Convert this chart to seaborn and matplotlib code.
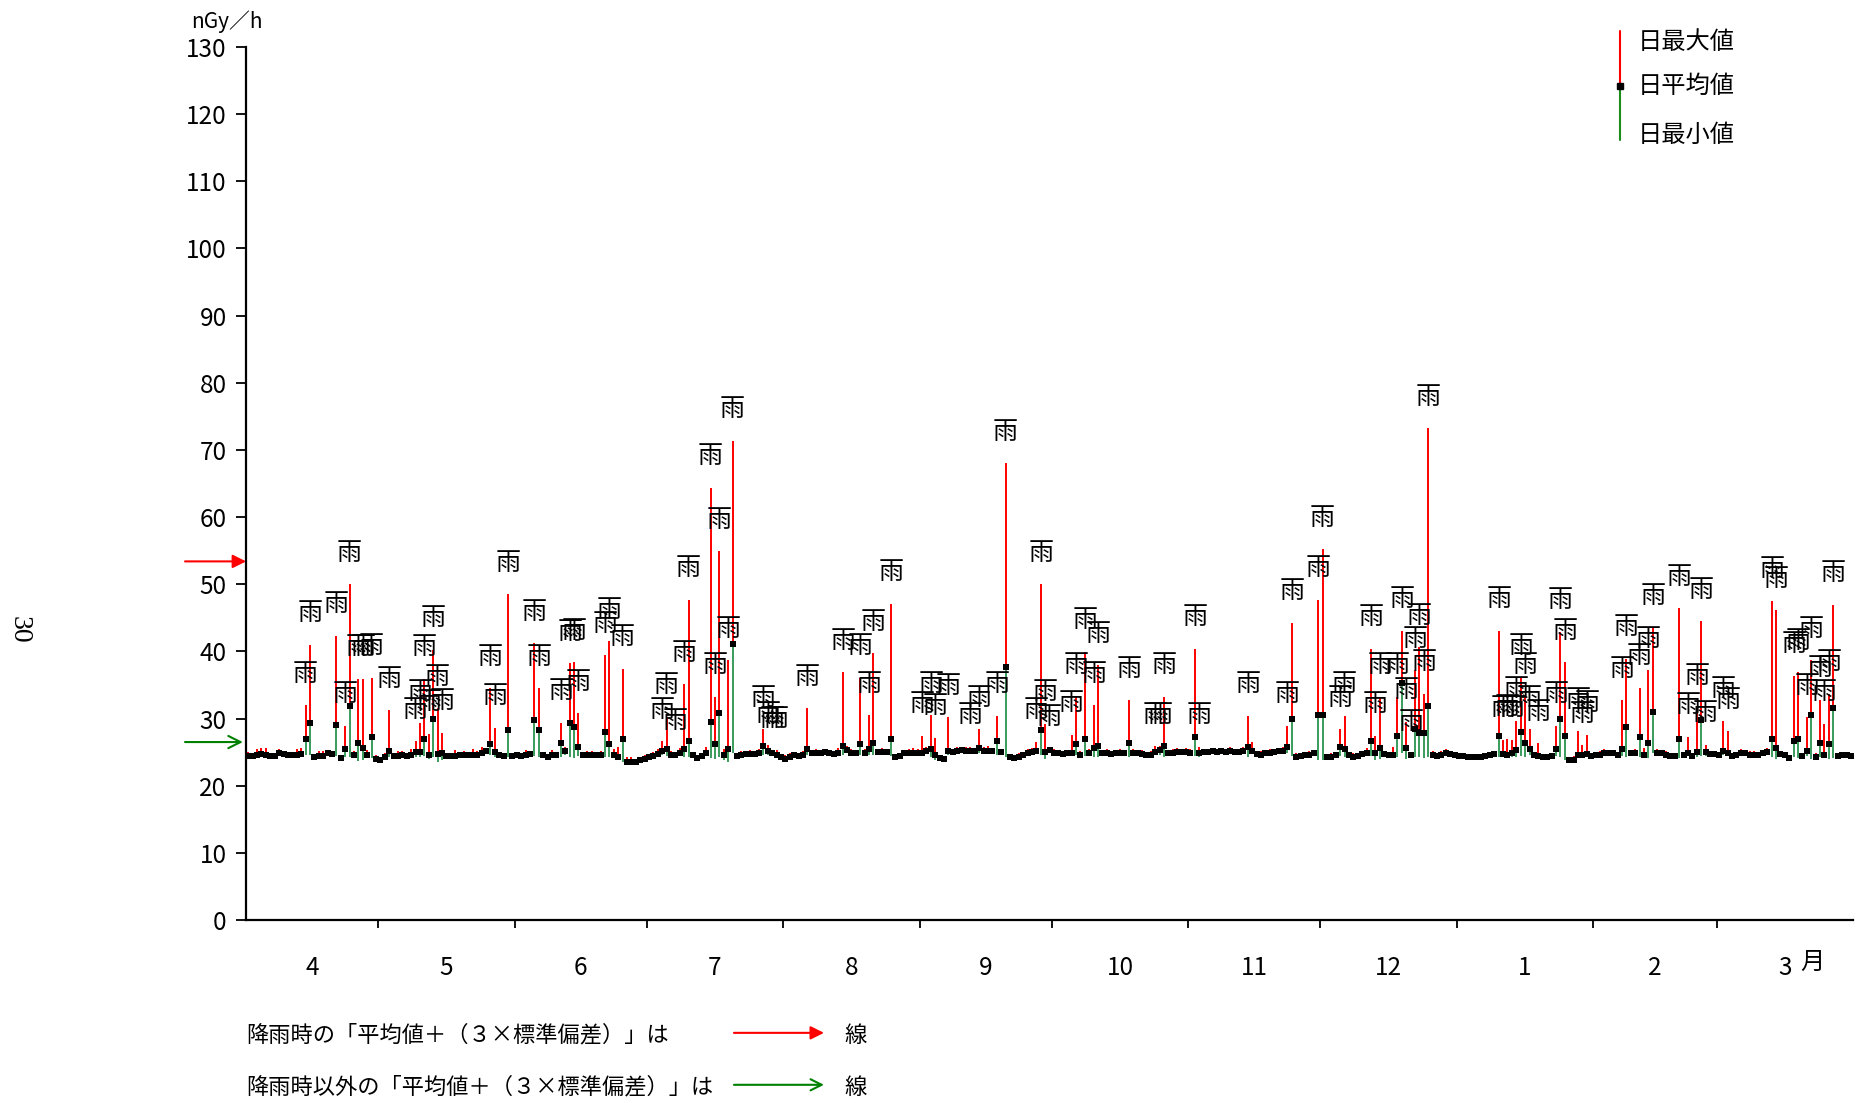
#!/usr/bin/env python3

import numpy as np
import pandas as pd
import seaborn as sns
from matplotlib import pyplot as plt
from matplotlib.lines import Line2D

months = ['4', '5', '6', '7', '8', '9', '10', '11', '12', '1', '2', '3']
days_in_month = [30, 31, 30, 31, 31, 30, 31, 30, 31, 31, 28, 31]

# daily values (nGy/h), one list per month
apr_mean = [24.4, 24.4, 24.6, 24.7, 24.6, 24.4, 24.4, 24.9, 24.7, 24.6,
            24.6, 24.6, 24.7, 26.9, 29.3, 24.2, 24.4, 24.4, 24.9, 24.7,
            29.0, 24.1, 25.4, 31.8, 24.6, 26.4, 25.6, 24.6, 27.2, 24.0]
apr_max = [25.0, 24.8, 25.5, 25.6, 25.6, 24.9, 24.8, 25.4, 25.0, 24.9,
           25.0, 25.5, 25.6, 32.0, 41.0, 24.7, 25.2, 25.1, 25.3, 25.1,
           42.3, 24.6, 28.9, 50.0, 25.1, 35.9, 35.9, 25.3, 36.1, 24.5]
apr_min = [24.1, 24.1, 24.3, 24.4, 24.2, 24.1, 24.2, 24.6, 24.4, 24.3,
           24.3, 24.2, 24.4, 24.5, 24.5, 23.9, 24.1, 24.1, 24.5, 24.3,
           24.4, 23.8, 24.2, 24.3, 24.2, 23.7, 23.8, 24.3, 24.1, 23.7]

may_mean = [23.8, 24.3, 25.2, 24.4, 24.4, 24.6, 24.4, 24.6, 25.0, 25.0,
            26.9, 24.6, 30.0, 24.7, 24.9, 24.4, 24.4, 24.4, 24.5, 24.6,
            24.5, 24.5, 24.6, 24.9, 25.1, 26.2, 25.0, 24.5, 24.4, 28.3,
            24.4]
may_max = [24.3, 24.9, 31.2, 24.9, 25.1, 25.2, 24.9, 25.5, 26.6, 29.3,
           35.9, 27.7, 40.2, 31.5, 27.9, 24.9, 24.8, 25.3, 25.0, 25.1,
           24.9, 25.4, 25.1, 25.7, 25.6, 34.5, 28.6, 24.9, 24.9, 48.5,
           24.9]
may_min = [23.5, 24.0, 24.3, 24.1, 24.1, 24.3, 24.1, 24.3, 24.3, 24.2,
           24.4, 24.0, 24.3, 23.6, 23.9, 24.1, 24.1, 24.1, 24.2, 24.3,
           24.2, 24.2, 24.3, 24.6, 24.8, 24.5, 24.3, 24.2, 24.1, 24.3,
           24.1]

jun_mean = [24.5, 24.4, 24.6, 24.7, 29.8, 28.3, 24.5, 24.2, 24.5, 24.5,
            26.4, 25.1, 29.3, 28.8, 25.7, 24.6, 24.6, 24.6, 24.6, 24.6,
            28.0, 26.2, 24.5, 24.3, 26.9, 23.6, 23.6, 23.6, 23.8, 24.0]
jun_max = [25.0, 24.9, 25.3, 25.2, 41.2, 34.5, 25.0, 24.7, 25.3, 25.0,
           29.4, 25.8, 38.2, 38.4, 30.8, 25.0, 25.1, 25.2, 25.0, 25.1,
           39.4, 41.5, 25.4, 25.8, 37.4, 24.2, 24.3, 24.0, 24.3, 24.5]
jun_min = [24.2, 24.1, 24.3, 24.4, 24.4, 24.3, 24.2, 23.9, 24.2, 24.2,
           24.3, 24.6, 24.2, 24.1, 24.4, 24.3, 24.3, 24.3, 24.3, 24.3,
           24.3, 24.2, 24.2, 24.0, 23.6, 23.3, 23.3, 23.3, 23.5, 23.7]

jul_mean = [24.2, 24.4, 24.7, 25.2, 25.5, 24.5, 24.5, 24.8, 25.4, 26.6,
            24.5, 24.1, 24.4, 24.9, 29.5, 26.2, 30.8, 24.6, 25.4, 41.1,
            24.4, 24.5, 24.7, 24.7, 24.7, 24.9, 25.9, 25.1, 24.8, 24.6,
            24.2]
jul_max = [24.7, 25.0, 25.4, 26.6, 30.3, 25.1, 25.0, 25.6, 35.1, 47.7,
           25.0, 24.6, 24.9, 25.8, 64.4, 33.2, 54.9, 25.5, 38.7, 71.4,
           24.9, 25.1, 25.2, 25.3, 25.1, 25.5, 28.4, 26.0, 25.3, 25.3,
           24.7]
jul_min = [23.9, 24.1, 24.4, 24.6, 24.4, 24.2, 24.2, 24.5, 24.3, 24.3,
           24.2, 23.8, 24.1, 24.6, 24.1, 24.0, 24.2, 23.8, 23.6, 24.8,
           24.1, 24.2, 24.4, 24.4, 24.4, 24.6, 24.5, 24.6, 24.5, 24.3,
           23.9]

aug_mean = [24.0, 24.3, 24.5, 24.4, 24.6, 25.4, 24.8, 24.8, 24.8, 25.0,
            24.8, 24.7, 24.8, 25.9, 25.3, 24.9, 24.9, 26.2, 24.9, 25.5,
            26.4, 25.0, 25.0, 25.0, 26.9, 24.2, 24.4, 24.8, 24.9, 24.9,
            24.9]
aug_max = [24.6, 24.9, 25.0, 24.9, 25.2, 31.5, 25.3, 25.4, 25.2, 25.5,
           25.2, 25.1, 25.6, 36.9, 25.9, 25.4, 25.3, 36.1, 25.4, 30.5,
           39.7, 25.5, 25.6, 25.4, 47.1, 24.6, 24.9, 25.3, 25.4, 25.6,
           25.4]
aug_min = [23.7, 24.0, 24.2, 24.1, 24.3, 24.5, 24.5, 24.5, 24.5, 24.7,
           24.5, 24.4, 24.5, 24.5, 24.9, 24.6, 24.6, 24.6, 24.6, 24.6,
           24.6, 24.7, 24.7, 24.7, 24.4, 23.9, 24.1, 24.5, 24.6, 24.6,
           24.6]

sep_mean = [24.8, 25.2, 25.4, 24.5, 24.1, 24.0, 25.1, 25.0, 25.2, 25.3,
            25.2, 25.1, 25.1, 25.6, 25.2, 25.2, 25.2, 26.6, 25.0, 37.7,
            24.2, 24.1, 24.3, 24.5, 24.8, 25.0, 25.2, 28.3, 25.0, 25.3]
sep_max = [27.4, 25.7, 30.5, 27.1, 24.5, 24.4, 30.2, 25.5, 25.8, 25.8,
           25.7, 25.8, 25.6, 28.4, 25.7, 25.9, 25.6, 30.4, 25.5, 68.0,
           24.7, 24.5, 24.8, 25.0, 25.4, 25.6, 26.5, 50.0, 29.2, 25.6]
sep_min = [24.5, 24.9, 24.3, 23.9, 23.8, 23.7, 24.5, 24.7, 24.9, 25.0,
           24.9, 24.8, 24.8, 24.9, 24.9, 24.9, 24.9, 24.6, 24.7, 24.3,
           23.9, 23.8, 24.0, 24.2, 24.5, 24.7, 24.7, 24.6, 24.0, 24.8]

oct_mean = [24.9, 24.8, 24.7, 24.8, 24.9, 26.2, 24.6, 26.9, 24.8, 25.6,
            25.9, 24.9, 24.9, 24.7, 24.8, 24.8, 24.8, 26.4, 24.9, 24.8,
            24.7, 24.5, 24.5, 25.0, 25.3, 25.9, 24.8, 24.9, 25.0, 25.0,
            25.0]
oct_max = [25.4, 25.2, 25.1, 25.3, 27.6, 33.2, 25.2, 39.9, 25.4, 32.0,
           37.9, 25.3, 25.4, 25.1, 25.3, 25.5, 25.2, 32.7, 25.4, 25.2,
           25.3, 25.0, 25.1, 25.9, 25.9, 33.2, 25.3, 25.4, 25.6, 25.5,
           25.6]
oct_min = [24.6, 24.5, 24.4, 24.5, 24.4, 24.5, 24.3, 24.4, 24.5, 24.2,
           24.3, 24.6, 24.6, 24.4, 24.5, 24.5, 24.5, 24.3, 24.6, 24.5,
           24.4, 24.2, 24.2, 24.5, 24.6, 24.2, 24.5, 24.6, 24.7, 24.7,
           24.7]

nov_mean = [24.9, 27.2, 24.8, 25.0, 25.0, 25.2, 25.0, 25.1, 25.0, 25.2,
            25.0, 25.0, 25.2, 25.8, 25.2, 24.7, 24.6, 24.9, 24.9, 25.0,
            25.1, 25.2, 25.8, 30.0, 24.3, 24.4, 24.5, 24.6, 24.8, 30.5]
nov_max = [25.4, 40.4, 25.8, 25.5, 25.4, 25.6, 25.4, 25.6, 25.5, 25.7,
           25.4, 25.5, 25.7, 30.4, 26.5, 25.1, 25.2, 25.3, 25.4, 25.5,
           25.6, 25.7, 28.9, 44.3, 24.8, 24.9, 25.0, 25.1, 25.3, 47.7]
nov_min = [24.6, 24.4, 24.3, 24.7, 24.7, 24.9, 24.7, 24.8, 24.7, 24.9,
           24.7, 24.7, 24.9, 24.3, 24.9, 24.4, 24.3, 24.6, 24.6, 24.7,
           24.8, 24.9, 24.8, 24.4, 24.0, 24.1, 24.2, 24.3, 24.5, 23.8]

dec_mean = [30.5, 24.2, 24.3, 24.5, 25.7, 25.4, 24.5, 24.3, 24.4, 24.7,
            24.9, 26.7, 24.9, 25.6, 24.7, 24.6, 24.6, 27.4, 35.3, 25.6,
            24.5, 28.5, 27.8, 27.8, 31.8, 24.6, 24.4, 24.6, 24.9, 24.7,
            24.5]
dec_max = [55.2, 24.6, 24.8, 25.0, 28.4, 30.4, 25.0, 24.8, 24.9, 25.2,
           25.6, 40.4, 27.4, 33.2, 25.1, 25.0, 25.8, 33.2, 43.1, 29.5,
           24.8, 37.2, 40.6, 33.7, 73.2, 25.1, 24.8, 25.1, 25.4, 25.2,
           24.9]
dec_min = [23.8, 23.9, 24.0, 24.2, 24.4, 24.2, 24.2, 24.0, 24.1, 24.4,
           24.6, 24.4, 23.9, 24.0, 24.4, 24.3, 24.3, 24.2, 24.8, 24.0,
           24.1, 24.3, 24.2, 24.1, 24.3, 24.3, 24.1, 24.3, 24.6, 24.4,
           24.2]

jan_mean = [24.4, 24.4, 24.3, 24.3, 24.3, 24.3, 24.4, 24.5, 24.7, 27.4,
            24.7, 24.6, 24.8, 25.3, 28.0, 26.4, 25.5, 24.5, 24.4, 24.3,
            24.3, 24.4, 25.5, 30.0, 27.4, 23.8, 23.8, 24.6, 24.6, 24.7,
            24.4]
jan_max = [24.8, 24.8, 24.7, 24.6, 24.7, 24.6, 24.8, 24.9, 25.2, 43.1,
           26.8, 27.0, 26.8, 29.7, 36.1, 33.2, 28.4, 24.9, 26.3, 24.7,
           24.7, 24.8, 28.9, 42.9, 38.4, 24.2, 24.4, 28.1, 26.0, 27.6,
           24.8]
jan_min = [24.1, 24.1, 24.0, 24.0, 24.0, 24.0, 24.1, 24.2, 24.4, 24.3,
           24.3, 24.2, 24.3, 24.3, 24.4, 24.2, 24.5, 24.2, 24.1, 24.0,
           24.0, 24.1, 24.4, 24.3, 23.8, 23.5, 23.5, 24.2, 24.2, 24.3,
           24.1]

feb_mean = [24.5, 24.6, 24.9, 24.9, 24.8, 24.6, 25.5, 28.8, 24.9, 24.9,
            27.2, 24.5, 26.4, 31.0, 24.9, 24.9, 24.6, 24.4, 24.4, 26.9,
            24.5, 24.9, 24.4, 25.0, 29.8, 25.0, 24.7, 24.7]
feb_max = [24.9, 25.1, 25.4, 25.3, 25.3, 25.0, 32.7, 38.9, 25.3, 25.4,
           34.6, 25.6, 37.2, 43.6, 25.4, 25.3, 25.1, 24.9, 24.8, 46.4,
           25.0, 27.3, 24.9, 31.7, 44.5, 26.1, 25.2, 25.1]
feb_min = [24.2, 24.3, 24.6, 24.6, 24.5, 24.3, 24.4, 24.3, 24.6, 24.6,
           24.2, 24.2, 24.1, 24.8, 24.6, 24.6, 24.3, 24.1, 24.1, 24.1,
           24.2, 24.5, 24.1, 24.3, 24.4, 24.4, 24.4, 24.4]

mar_mean = [24.5, 25.1, 24.9, 24.4, 24.6, 24.9, 24.9, 24.6, 24.6, 24.6,
            24.8, 25.0, 26.9, 25.6, 24.7, 24.5, 24.1, 26.7, 26.9, 24.4,
            25.2, 30.6, 24.3, 26.4, 24.5, 26.2, 31.6, 24.4, 24.5, 24.5,
            24.4]
mar_max = [24.9, 29.7, 28.1, 24.9, 25.0, 25.5, 25.3, 25.2, 25.1, 25.0,
           25.3, 25.6, 47.5, 46.1, 25.2, 24.9, 24.6, 36.4, 36.9, 24.9,
           30.2, 38.7, 24.8, 32.8, 29.2, 33.7, 46.9, 24.9, 25.0, 25.0,
           24.9]
mar_min = [24.2, 24.5, 24.5, 24.1, 24.3, 24.6, 24.6, 24.3, 24.3, 24.3,
           24.5, 24.7, 24.2, 24.0, 24.4, 24.2, 23.8, 24.3, 24.1, 24.1,
           24.4, 24.0, 24.0, 24.2, 24.2, 24.0, 24.1, 24.1, 24.2, 24.2,
           24.1]

# rain days (day of month)
apr_rain = [14, 15, 21, 23, 24, 26, 27, 29]
may_rain = [3, 9, 10, 11, 12, 13, 14, 15, 26, 27, 30]
jun_rain = [5, 6, 11, 13, 14, 15, 21, 22, 25]
jul_rain = [4, 5, 7, 9, 10, 15, 16, 17, 19, 20, 27, 28, 29, 30]
aug_rain = [6, 14, 18, 20, 21, 25]
sep_rain = [1, 3, 4, 7, 12, 14, 18, 20, 27, 28, 29, 30]
oct_rain = [5, 6, 8, 10, 11, 18, 24, 25, 26]
nov_rain = [2, 3, 14, 23, 24, 30]
dec_rain = [1, 5, 6, 12, 13, 14, 18, 19, 20, 21, 22, 23, 24, 25]
jan_rain = [10, 11, 12, 13, 14, 15, 16, 17, 19, 23, 24, 25, 28, 29, 30]
feb_rain = [7, 8, 11, 13, 14, 20, 22, 24, 25, 26]
mar_rain = [2, 3, 13, 14, 18, 19, 21, 22, 24, 25, 26, 27]

rain_limit = 53.4      # 降雨時の平均値+3σ
dry_limit = 26.5       # 降雨時以外の平均値+3σ


def build_frame():
    means = (apr_mean + may_mean + jun_mean + jul_mean + aug_mean + sep_mean
             + oct_mean + nov_mean + dec_mean + jan_mean + feb_mean + mar_mean)
    maxs = (apr_max + may_max + jun_max + jul_max + aug_max + sep_max
            + oct_max + nov_max + dec_max + jan_max + feb_max + mar_max)
    mins = (apr_min + may_min + jun_min + jul_min + aug_min + sep_min
            + oct_min + nov_min + dec_min + jan_min + feb_min + mar_min)
    rains = [apr_rain, may_rain, jun_rain, jul_rain, aug_rain, sep_rain,
             oct_rain, nov_rain, dec_rain, jan_rain, feb_rain, mar_rain]
    starts = np.cumsum([0] + days_in_month[:-1])
    df = pd.DataFrame({'x': np.arange(len(means)) + 0.5,
                       'mean': means, 'max': maxs, 'min': mins})
    df['rain'] = False
    idx = [s + d - 1 for s, r in zip(starts, rains) for d in r]
    df.loc[idx, 'rain'] = True
    return df, starts


def plot(out_file):
    df, starts = build_frame()

    sns.set_theme(style='ticks', rc={'axes.edgecolor': 'black',
                                     'xtick.color': 'black',
                                     'ytick.color': 'black',
                                     'text.color': 'black'})
    plt.rcParams['font.family'] = ['Noto Sans CJK JP', 'DejaVu Sans']

    fig = plt.figure(figsize=(18.6, 11.03), dpi=100)
    ax = fig.add_axes([0.1323, 0.1659, 0.8640, 0.7915])

    ax.vlines(df['x'], df['mean'], df['max'], color='#ff0000', lw=1.4,
              zorder=2)
    ax.vlines(df['x'], df['min'], df['mean'], color='#3a9b5c', lw=1.4,
              zorder=2)
    sns.scatterplot(data=df, x='x', y='mean', marker='s', s=16,
                    color='black', linewidth=0, ax=ax, zorder=3)

    for _, r in df[df['rain']].iterrows():
        ax.text(r['x'], r['max'] + 4.7, '雨', ha='center', va='center',
                fontsize=18, zorder=4)

    ax.set_xlim(0, 365)
    ax.set_ylim(0, 130)
    ax.set_yticks(range(0, 131, 10))
    ax.set_xticks(np.cumsum(days_in_month)[:-1])
    ax.set_xticklabels([])
    ax.set_xticks(starts + np.array(days_in_month) / 2, minor=True)
    ax.set_xticklabels(months, minor=True)
    ax.tick_params(axis='x', which='major', length=6, width=1.3)
    ax.tick_params(axis='x', which='minor', length=0, pad=25, labelsize=17.5)
    ax.tick_params(axis='y', length=7, width=1.3, pad=7, labelsize=17.5)
    ax.set_xlabel('')
    ax.set_ylabel('')
    sns.despine(ax=ax)
    for s in ['left', 'bottom']:
        ax.spines[s].set_linewidth(1.6)

    ax.text(355.7, -0.048, '月', transform=ax.get_xaxis_transform(),
            ha='center', va='center', fontsize=17.5)

    # 3σ arrows on the y axis
    ax.annotate('', xy=(0, rain_limit), xytext=(-0.038, rain_limit),
                xycoords=('axes fraction', 'data'),
                textcoords=('axes fraction', 'data'),
                arrowprops=dict(arrowstyle='-|>', color='red', lw=1.5,
                                mutation_scale=20, shrinkA=0, shrinkB=0),
                annotation_clip=False)
    ax.annotate('', xy=(-0.002, dry_limit), xytext=(-0.038, dry_limit),
                xycoords=('axes fraction', 'data'),
                textcoords=('axes fraction', 'data'),
                arrowprops=dict(arrowstyle='->', color='green', lw=1.5,
                                mutation_scale=22, shrinkA=0, shrinkB=0),
                annotation_clip=False)

    fig.text(0.122, 0.980, 'nGy／h', ha='center', va='center', fontsize=15)
    fig.text(0.0105, 0.4288, '30', rotation=-90, ha='center', va='center',
             fontsize=20, family='Liberation Serif')

    # legend
    lx = 0.871
    fig.add_artist(Line2D([lx, lx], [0.9719, 0.922], color='#ff0000', lw=1.5))
    fig.add_artist(Line2D([lx, lx], [0.922, 0.873], color='#1a8c1a', lw=1.5))
    fig.add_artist(Line2D([lx], [0.922], marker='s', markersize=4,
                          color='black', lw=0))
    for y, t in zip([0.962, 0.922, 0.878], ['日最大値', '日平均値', '日最小値']):
        fig.text(0.8806, y, t, ha='left', va='center', fontsize=17.5)

    # notes at bottom
    notes = [('降雨時の「平均値＋（３×標準偏差）」は', 0.0616, '-|>', 'red'),
             ('降雨時以外の「平均値＋（３×標準偏差）」は', 0.0145, '->', 'green')]
    for t, y, style, c in notes:
        fig.text(0.1323, y, t, ha='left', va='center', fontsize=16)
        ax.annotate('', xy=(0.443, y + 0.002), xytext=(0.3946, y + 0.002),
                    xycoords='figure fraction', textcoords='figure fraction',
                    arrowprops=dict(arrowstyle=style, color=c, lw=1.5,
                                    mutation_scale=20, shrinkA=0, shrinkB=0),
                    annotation_clip=False)
        fig.text(0.4538, y, '線', ha='left', va='center', fontsize=16)

    fig.savefig(out_file, dpi=100)


if __name__ == '__main__':
    plot('out.png')
